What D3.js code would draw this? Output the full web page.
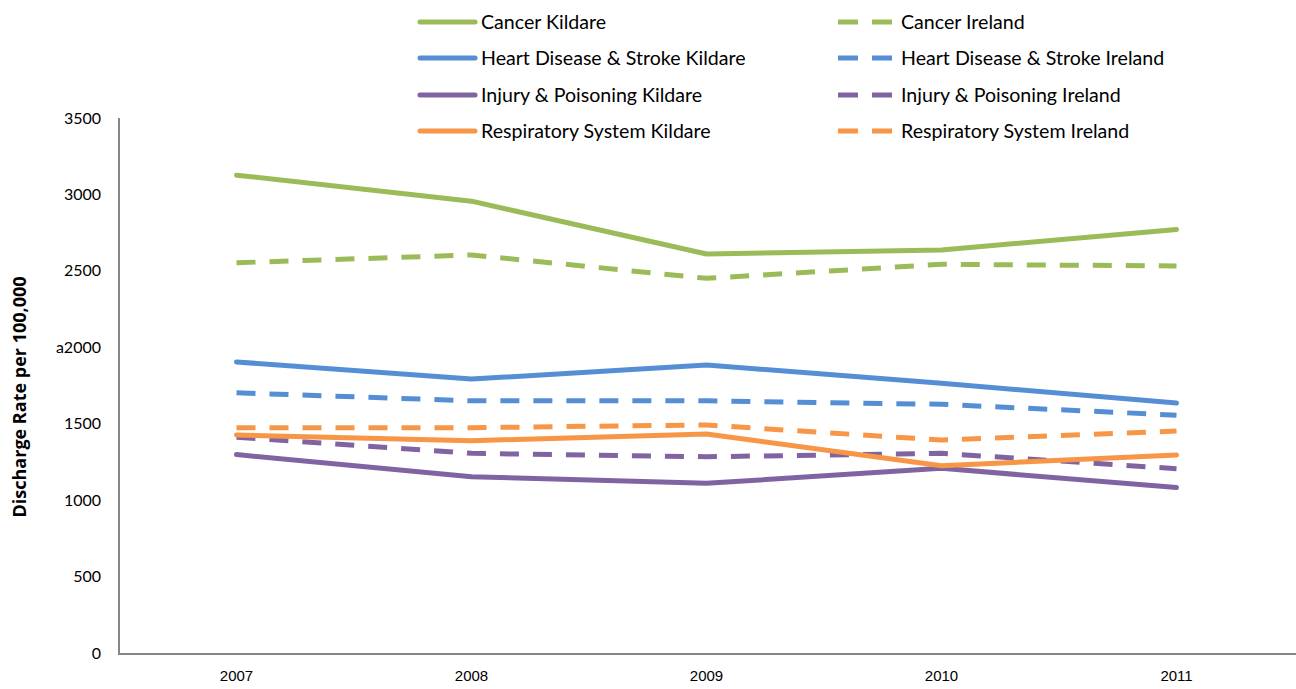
<!DOCTYPE html>
<html><head><meta charset="utf-8">
<script src="https://cdn.jsdelivr.net/npm/d3@7"></script>
<style>body{margin:0;background:#fff}svg{display:block}</style>
</head><body>
<svg id="chart" width="1296" height="689"></svg>
<script>
const years = ["2007","2008","2009","2010","2011"];
const yTicks = [0,500,1000,1500,2000,2500,3000,3500];
const yTickLabels = ["0","500","1000","1500","a2000","2500","3000","3500"];
const cancerKildare = [3126,2956,2610,2636,2771];
const cancerIreland = [2553,2604,2451,2543,2532];
const heartKildare = [1904,1792,1884,1764,1636];
const heartIreland = [1702,1650,1650,1627,1556];
const injuryKildare = [1298,1153,1110,1208,1082];
const injuryIreland = [1412,1306,1284,1306,1206];
const respKildare = [1426,1389,1433,1225,1295];
const respIreland = [1473,1474,1492,1393,1452];

const seriesNames = ["Cancer Kildare","Cancer Ireland","Heart Disease & Stroke Kildare","Heart Disease & Stroke Ireland","Injury & Poisoning Kildare","Injury & Poisoning Ireland","Respiratory System Kildare","Respiratory System Ireland"];
const seriesValues = [cancerKildare,cancerIreland,heartKildare,heartIreland,injuryKildare,injuryIreland,respKildare,respIreland];
const colors = {Cancer:"#9BBB59",Heart:"#558ED5",Injury:"#8064A2",Respiratory:"#F79646"};

const svg = d3.select("#chart");
const x = d3.scaleBand().domain(years).range([119,1294]);
const y = d3.scaleLinear().domain([0,3500]).range([653,118]);

const axisColor = "#868686";
svg.append("line").attr("x1",119).attr("x2",119).attr("y1",y(3500)).attr("y2",654)
  .attr("stroke",axisColor).attr("stroke-width",2);
svg.append("line").attr("x1",118).attr("x2",1296).attr("y1",654).attr("y2",654)
  .attr("stroke",axisColor).attr("stroke-width",2);

const yAx = svg.append("g").attr("transform","translate(101,0)")
  .call(d3.axisLeft(y).tickValues(yTicks).tickSize(0).tickPadding(0)
    .tickFormat((d,i)=>yTickLabels[i]));
yAx.select(".domain").remove();
yAx.selectAll("text").attr("font-family","Lato,'Open Sans',sans-serif").attr("font-size","16px").attr("fill","#000");

const xAx = svg.append("g").attr("transform","translate(0,670)")
  .call(d3.axisBottom(x).tickSize(0).tickPadding(0));
xAx.select(".domain").remove();
xAx.selectAll("text").attr("font-family","'Liberation Sans Narrow','Arial Narrow',sans-serif")
  .attr("font-size","15px").attr("fill","#000").attr("dy","0.71em");

svg.append("text").attr("transform","translate(26,397) rotate(-90)")
  .attr("text-anchor","middle").attr("font-family","'Open Sans','Noto Sans',sans-serif")
  .attr("font-weight","bold").attr("font-size","18px").text("Discharge Rate per 100,000");

const line = d3.line().x((d,i)=>x(years[i])+x.bandwidth()/2).y(d=>y(d));
const colorOf = n => colors[n.split(" ")[0]];
const dashed = n => n.endsWith("Ireland");

const order = [1,3,5,7,0,2,4,6];
order.forEach(i=>{
  const n = seriesNames[i];
  svg.append("path").datum(seriesValues[i]).attr("d",line)
    .attr("fill","none").attr("stroke",colorOf(n)).attr("stroke-width",5)
    .attr("stroke-linejoin","round").attr("stroke-linecap", dashed(n)?"butt":"round")
    .attr("stroke-dasharray", dashed(n)?"19,14":null);
});

const legRows = [22,58,95,131];
seriesNames.forEach((n,i)=>{
  const col = i%2, row = Math.floor(i/2);
  const g = svg.append("g").attr("transform",`translate(${col?838:420},${legRows[row]})`);
  if(!dashed(n)){
    g.append("line").attr("x1",0).attr("x2",55).attr("y1",0).attr("y2",0)
      .attr("stroke",colorOf(n)).attr("stroke-width",5).attr("stroke-linecap","round");
  } else {
    g.append("line").attr("x1",0).attr("x2",54).attr("y1",0).attr("y2",0)
      .attr("stroke",colorOf(n)).attr("stroke-width",5).attr("stroke-dasharray","20,14");
  }
  g.append("text").attr("x",col?63:61).attr("y",0).attr("dy","0.35em")
    .attr("font-family","Lato,'Open Sans',sans-serif").attr("font-size","19.6px").attr("fill","#000").text(n);
});
</script>
</body></html>
